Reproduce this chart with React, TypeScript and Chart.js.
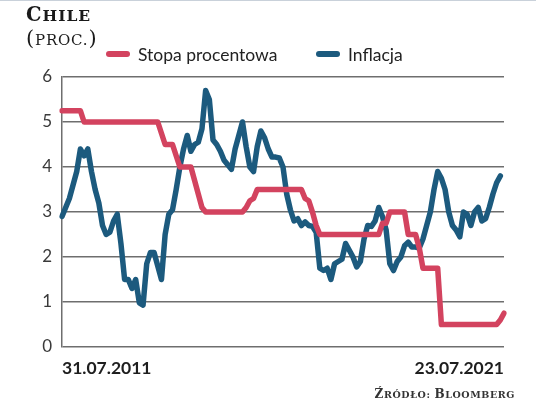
import React, { useEffect, useRef } from "react";
import { Chart, registerables } from "chart.js";

Chart.register(...registerables);

// Monthly categories from 07.2011 to 07.2021
const months: string[] = [];
for (let y = 2011, m = 7; y < 2021 || (y === 2021 && m <= 7); ) {
  months.push(`${String(m).padStart(2, "0")}.${y}`);
  m++;
  if (m > 12) { m = 1; y++; }
}

const tickLabels = ["31.07.2011", "23.07.2021"];
const yTicks = [0, 1, 2, 3, 4, 5, 6];

const seriesNames = ["Stopa procentowa", "Inflacja"];

const stopaProcentowa = [
  5.25, 5.25, 5.25, 5.25, 5.25, 5.25,
  5, 5, 5, 5, 5, 5, 5, 5, 5, 5, 5, 5, 5, 5, 5, 5, 5, 5, 5, 5, 5,
  4.75,
  4.5, 4.5, 4.5,
  4.25,
  4, 4, 4, 4,
  3.7, 3.4, 3.1,
  3, 3, 3, 3, 3, 3, 3, 3, 3, 3, 3,
  3.1, 3.25, 3.3,
  3.5, 3.5, 3.5, 3.5, 3.5, 3.5, 3.5, 3.5, 3.5, 3.5, 3.5, 3.5, 3.5,
  3.3, 3.25,
  3, 2.7,
  2.5, 2.5, 2.5, 2.5, 2.5, 2.5, 2.5, 2.5, 2.5, 2.5, 2.5, 2.5, 2.5, 2.5, 2.5, 2.5, 2.5,
  2.75, 2.75,
  3, 3, 3, 3, 3,
  2.5, 2.5, 2.5,
  2.2,
  1.75, 1.75, 1.75, 1.75, 1.75,
  0.5, 0.5, 0.5, 0.5, 0.5, 0.5, 0.5, 0.5, 0.5, 0.5, 0.5, 0.5, 0.5, 0.5, 0.5, 0.5,
  0.6, 0.75,
];

const inflacja = [
  2.9, 3.1, 3.3, 3.6, 3.9, 4.4, 4.25, 4.4, 3.9, 3.5,
  3.2, 2.7, 2.5, 2.55, 2.8, 2.95, 2.3, 1.5, 1.5, 1.3,
  1.5, 0.98, 0.93, 1.85, 2.1, 2.1, 1.8, 1.5, 2.5, 2.95,
  3.05, 3.5, 4.0, 4.4, 4.7, 4.35, 4.5, 4.55, 4.85, 5.7,
  5.5, 4.6, 4.5, 4.35, 4.15, 4.05, 3.95, 4.4, 4.7, 5.0,
  4.45, 4.0, 3.9, 4.45, 4.8, 4.65, 4.4, 4.22, 4.22, 4.2,
  4.0, 3.4, 3.05, 2.8, 2.85, 2.7, 2.78, 2.7, 2.68, 2.55,
  1.75, 1.7, 1.75, 1.5, 1.85, 1.9, 1.95, 2.3, 2.15, 2.0,
  1.78, 1.9, 2.4, 2.7, 2.68, 2.8, 3.1, 2.9, 2.6, 1.85,
  1.7, 1.9, 2.0, 2.25, 2.33, 2.22, 2.22, 2.2, 2.4, 2.7,
  3.0, 3.5, 3.9, 3.75, 3.5, 3.0, 2.7, 2.6, 2.45, 3.0,
  2.95, 2.7, 3.0, 3.1, 2.8, 2.85, 3.1, 3.4, 3.65, 3.8,
];

const RED = "#d3435f";
const BLUE = "#1c5a7e";
const SANS = "Lato, 'DejaVu Sans Condensed', sans-serif";
const SLAB = "'DejaVu Serif', serif";

export default function App() {
  const ref = useRef<HTMLCanvasElement | null>(null);

  useEffect(() => {
    document.body.style.margin = "0";
    const canvas = ref.current;
    if (!canvas) return;
    const chart = new Chart(canvas, {
      type: "line",
      data: {
        labels: months,
        datasets: [
          {
            label: seriesNames[0],
            data: stopaProcentowa,
            borderColor: RED,
            backgroundColor: RED,
            borderWidth: 5.5,
            pointRadius: 0,
            tension: 0,
            borderJoinStyle: "round",
            borderCapStyle: "round",
          },
          {
            label: seriesNames[1],
            data: inflacja,
            borderColor: BLUE,
            backgroundColor: BLUE,
            borderWidth: 5.5,
            pointRadius: 0,
            tension: 0,
            borderJoinStyle: "round",
            borderCapStyle: "round",
          },
        ],
      },
      options: {
        responsive: false,
        animation: false,
        layout: { padding: { left: 0, right: 32, top: 77, bottom: 0 } },
        plugins: { legend: { display: false }, tooltip: { enabled: false } },
        scales: {
          x: {
            type: "category",
            offset: false,
            grid: { display: false },
            border: { display: false },
            afterFit: (scale: any) => { scale.height = 52; },
            ticks: {
              autoSkip: false,
              maxRotation: 0,
              minRotation: 0,
              align: "inner",
              padding: 3,
              color: "#1e1e1e",
              font: { family: SANS, size: 17.5, weight: "bold" },
              callback: (_v: any, i: number) =>
                i === 0 ? tickLabels[0] : i === months.length - 1 ? tickLabels[1] : "",
            },
          },
          y: {
            min: yTicks[0],
            max: yTicks[yTicks.length - 1],
            afterFit: (scale: any) => { scale.width = 62; },
            afterBuildTicks: (scale: any) => {
              scale.ticks = yTicks.map((v) => ({ value: v }));
            },
            grid: { color: "#6e6e6e", lineWidth: 1.5, drawTicks: false },
            border: { display: true, color: "#6e6e6e", width: 1.5 },
            ticks: {
              padding: 10,
              color: "#3a3a3a",
              font: { family: SANS, size: 17 },
            },
          },
        },
      },
    });
    return () => chart.destroy();
  }, []);

  const legendText: React.CSSProperties = {
    position: "absolute",
    top: 44,
    fontFamily: SANS,
    fontSize: 17.5,
    lineHeight: "22px",
    color: "#222",
    whiteSpace: "nowrap",
  };
  const marker: React.CSSProperties = {
    position: "absolute",
    top: 51,
    width: 24,
    height: 6,
    borderRadius: 3,
  };
  const big = (s: number): React.CSSProperties => ({ fontSize: s });
  const small = (s: number): React.CSSProperties => ({ fontSize: s, textTransform: "uppercase" });

  return (
    <div style={{ position: "relative", width: 536, height: 399, background: "#fff", overflow: "hidden" }}>
      <div style={{ position: "absolute", left: 0, top: 0, width: 536, height: 1, background: "#c9d1da" }} />
      <canvas ref={ref} width={536} height={399} style={{ display: "block", width: 536, height: 399 }} />
      <div
        style={{
          position: "absolute", left: 26, top: 3.5, fontFamily: SLAB,
          fontWeight: "bold", lineHeight: "22px", color: "#1a1a1a", letterSpacing: 1, whiteSpace: "nowrap",
        }}
      >
        <span style={big(19.5)}>C</span><span style={small(15.5)}>hile</span>
      </div>
      <div
        style={{
          position: "absolute", left: 26, top: 26.5, fontFamily: SLAB,
          lineHeight: "22px", color: "#1a1a1a", letterSpacing: 0.8, whiteSpace: "nowrap",
        }}
      >
        <span style={big(21)}>(</span><span style={small(15)}>proc.</span><span style={big(21)}>)</span>
      </div>
      <div style={{ ...marker, left: 106, background: RED }} />
      <div style={{ ...legendText, left: 138 }}>{seriesNames[0]}</div>
      <div style={{ ...marker, left: 316, background: BLUE }} />
      <div style={{ ...legendText, left: 348 }}>{seriesNames[1]}</div>
      <div
        style={{
          position: "absolute", right: 21, top: 386, fontFamily: SLAB,
          fontWeight: "bold", lineHeight: "13px", color: "#333", letterSpacing: 0.6, whiteSpace: "nowrap",
        }}
      >
        <span style={big(12)}>Ź</span><span style={small(9.5)}>ródło: </span>
        <span style={big(12)}>B</span><span style={small(9.5)}>loomberg</span>
      </div>
    </div>
  );
}
